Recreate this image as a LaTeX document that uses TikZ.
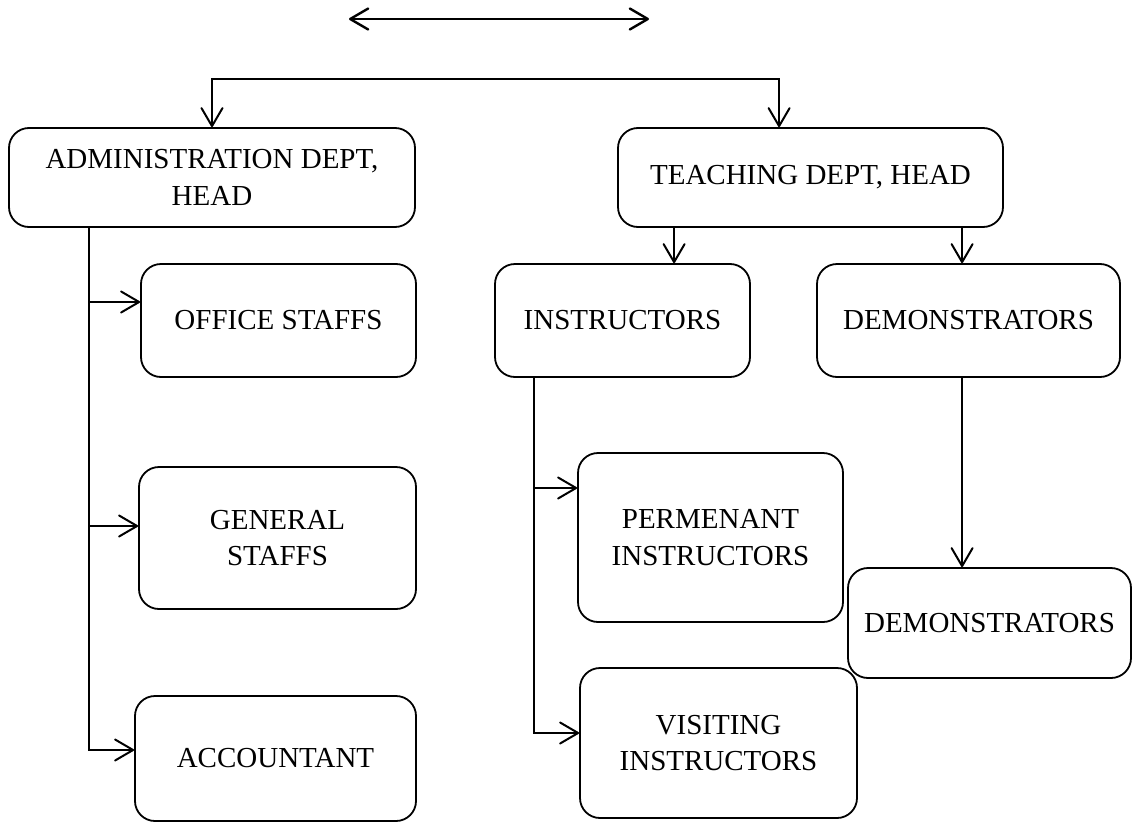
\documentclass[tikz,border=0pt]{standalone}
\usepackage{fontspec}
\setmainfont{Liberation Serif}
\usetikzlibrary{arrows.meta}
\tikzset{
  box/.style={draw, line width=1.8pt, rounded corners=20pt, align=center, inner sep=0pt,
    font=\fontsize{29}{36.5}\selectfont},
  barb/.tip={Straight Barb[length=18pt,width=21pt,line cap=round,line join=round]},
  link/.style={line width=2pt},
  conn/.style={link, -barb},
}
\begin{document}
\begin{tikzpicture}[x=1pt,y=-1pt]
\useasboundingbox (0,0) rectangle (1133,822);
% nodes
\node[box, minimum width=406pt, minimum height=99pt] (admin) at (212,177.5) {ADMINISTRATION DEPT,\\HEAD};
\node[box, minimum width=385pt, minimum height=99pt] (teach) at (810.5,177.5) {TEACHING DEPT, HEAD};
\node[box, minimum width=275pt, minimum height=113pt] (office) at (278.5,320.5) {OFFICE STAFFS};
\node[box, minimum width=277pt, minimum height=142pt] (general) at (277.5,538) {GENERAL\\STAFFS};
\node[box, minimum width=281pt, minimum height=125pt] (acct) at (275.5,758.5) {ACCOUNTANT};
\node[box, minimum width=255pt, minimum height=113pt] (instr) at (622.5,320.5) {INSTRUCTORS};
\node[box, minimum width=303pt, minimum height=113pt] (demoT) at (968.5,320.5) {DEMONSTRATORS};
\node[box, minimum width=265pt, minimum height=169pt] (perm) at (710.5,537.5) {PERMENANT\\INSTRUCTORS};
\node[box, minimum width=277pt, minimum height=150pt] (visit) at (718.5,743) {VISITING\\INSTRUCTORS};
\node[box, minimum width=283pt, minimum height=110pt] (demoB) at (989.5,623) {DEMONSTRATORS};
% top double arrow
\coordinate (dl) at (349,19);
\coordinate (dr) at (649,19);
\draw[line width=2.4pt, barb-barb] (dl) -- (dr);
% bracket to the two heads
\coordinate (bL) at ([yshift=48pt]admin.north);
\coordinate (tN) at ([xshift=162pt]teach.north west);
\coordinate (bR) at (bL -| tN);
\draw[link, barb-barb] (admin.north) -- (bL) -- (bR) -- (tN);
% administration branches
\coordinate (a0) at ([xshift=81pt]admin.south west);
\coordinate (tOff) at ([yshift=18.5pt]office.west);
\coordinate (tGen) at ([yshift=12pt]general.west);
\coordinate (tAcc) at ([yshift=8.5pt]acct.west);
\draw[conn] (a0) |- (tAcc);
\draw[conn] (a0 |- tOff) -- (tOff);
\draw[conn] (a0 |- tGen) -- (tGen);
% teaching branches
\coordinate (t1) at ([xshift=57pt]teach.south west);
\coordinate (t2) at ([xshift=345pt]teach.south west);
\draw[conn] (t1) -- (t1 |- instr.north);
\draw[conn] (t2) -- (t2 |- demoT.north);
% instructors branches
\coordinate (i0) at ([xshift=40pt]instr.south west);
\coordinate (tPer) at ([yshift=49.5pt]perm.west);
\coordinate (tVis) at ([yshift=10pt]visit.west);
\draw[conn] (i0) |- (tVis);
\draw[conn] (i0 |- tPer) -- (tPer);
% demonstrators
\coordinate (d0) at ([xshift=146pt]demoT.south west);
\draw[conn] (d0) -- (d0 |- demoB.north);
\end{tikzpicture}
\end{document}
